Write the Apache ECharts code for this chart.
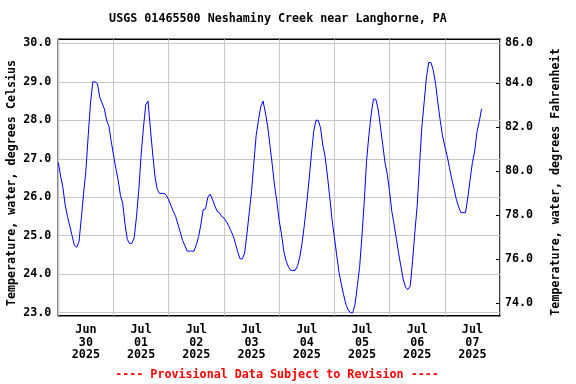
<!DOCTYPE html>
<html><head><meta charset="utf-8">
<script src="https://cdn.jsdelivr.net/npm/echarts@6/dist/echarts.min.js"></script>
<style>html,body{margin:0;padding:0;background:#fff}#c{width:576px;height:384px}</style>
</head><body><div id="c"></div><script>
// Day labels (each centred on its day)
const dayLabels = ["Jun\n30\n2025","Jul\n01\n2025","Jul\n02\n2025","Jul\n03\n2025","Jul\n04\n2025","Jul\n05\n2025","Jul\n06\n2025","Jul\n07\n2025"];
// Hourly readings, starting 2025-06-30 00:00 (hour 0), degrees Celsius
const hourStart = 0;
const tempC = [
26.9,26.55,26.25,25.8,25.5,25.25,25.0,24.75,24.7,24.85,25.45,26.1,26.7,27.6,28.45,29.0,29.0,28.95,28.6,28.45,28.3,28.0,27.85,27.45,
27.1,26.75,26.45,26.05,25.85,25.3,24.9,24.8,24.8,24.95,25.5,26.2,27.1,27.8,28.4,28.5,27.8,27.15,26.55,26.2,26.1,26.1,26.1,26.05,
25.93,25.78,25.63,25.5,25.3,25.1,24.88,24.75,24.6,24.6,24.6,24.6,24.77,24.98,25.3,25.68,25.7,26.0,26.08,25.95,25.78,25.64,25.6,25.5,
25.46,25.37,25.27,25.13,25.0,24.8,24.58,24.4,24.4,24.55,25.05,25.6,26.15,26.9,27.6,28.0,28.35,28.5,28.2,27.85,27.35,26.85,26.3,25.9,
25.4,25.05,24.6,24.35,24.2,24.1,24.1,24.1,24.22,24.45,24.82,25.3,25.85,26.45,27.1,27.7,28.0,28.0,27.8,27.35,27.05,26.55,26.0,25.42,
24.97,24.5,24.05,23.75,23.47,23.22,23.07,23.0,23.0,23.22,23.7,24.2,25.0,25.9,26.95,27.6,28.15,28.55,28.55,28.3,27.85,27.38,26.9,26.6,
26.15,25.62,25.28,24.9,24.52,24.18,23.85,23.65,23.6,23.7,24.35,25.1,25.78,26.8,27.8,28.45,29.1,29.5,29.5,29.3,28.95,28.45,28.0,27.6,
27.33,27.08,26.78,26.48,26.22,25.95,25.75,25.6,25.6,25.6,25.98,26.45,26.9,27.2,27.7,27.97,28.3
];
const titleText = "USGS 01465500 Neshaminy Creek near Langhorne, PA";
const leftName = "Temperature, water, degrees Celsius";
const rightName = "Temperature, water, degrees Fahrenheit";
const footText = "---- Provisional Data Subject to Revision ----";

const FF = '"DejaVu Sans Mono", monospace';
const FS = 11.7;
const gridColor = '#c8c8c8';
const chart = echarts.init(document.getElementById('c'), null, {renderer:'canvas'});
const lbl = {fontFamily:FF, fontWeight:'bold', fontSize:FS, color:'#000'};
chart.setOption({
  animation:false,
  backgroundColor:'#fff',
  grid:[
    {left:58.3, right:76, top:39.3, bottom:68.3, show:true, borderColor:'#000', borderWidth:1.5, backgroundColor:'transparent'},
    {left:58.3, right:76, top:43.3, bottom:71.3},
    {left:58.3, right:76, top:39.3, bottom:80.7}
  ],
  xAxis:[
    {gridIndex:0, type:'value', min:0, max:192, interval:24, axisLine:{show:false, onZero:false}, axisTick:{show:false}, axisLabel:{show:false}, splitLine:{show:true, lineStyle:{color:gridColor, width:1}}},
    {gridIndex:0, type:'category', data:dayLabels, boundaryGap:true, position:'bottom', axisLine:{show:false, onZero:false}, axisTick:{show:false}, splitLine:{show:false},
      axisLabel:Object.assign({interval:0, margin:8, lineHeight:12.6}, lbl)},
    {gridIndex:1, type:'value', min:0, max:192, show:false},
    {gridIndex:2, type:'value', min:0, max:192, show:false}
  ],
  yAxis:[
    {gridIndex:0, type:'value', min:0, max:1, show:false},
    {gridIndex:1, type:'value', position:'left', min:23, max:30, interval:1, axisLine:{show:false, onZero:false}, axisTick:{show:false},
      splitLine:{show:true, lineStyle:{color:gridColor, width:1}},
      axisLabel:Object.assign({margin:7, formatter:v=>v.toFixed(1)}, lbl)},
    {gridIndex:2, type:'value', position:'right', min:74, max:86, interval:2, axisLine:{show:false, onZero:false},
      axisTick:{show:true, inside:true, length:4, lineStyle:{color:'#000', width:1}}, splitLine:{show:false},
      axisLabel:Object.assign({margin:5, formatter:v=>(v===86?'{t|86.0}':v.toFixed(1)), rich:{t:Object.assign({padding:[8,0,0,0]}, lbl)}}, lbl)}
  ],
  series:[{
    type:'line', xAxisIndex:2, yAxisIndex:1, showSymbol:false, clip:false,
    lineStyle:{color:'#0000ff', width:1},
    data:tempC.map((v,i)=>[hourStart+i, v])
  }],
  graphic:[
    {type:'text', x:278, y:19, style:{text:titleText, x:0, y:0, align:'center', verticalAlign:'middle', font:'bold '+FS+'px '+FF, fill:'#000'}},
    {type:'text', x:11.7, y:183, rotation:Math.PI/2, style:{text:leftName, x:0, y:0, align:'center', verticalAlign:'middle', font:'bold '+FS+'px '+FF, fill:'#000'}},
    {type:'text', x:556, y:182, rotation:Math.PI/2, style:{text:rightName, x:0, y:0, align:'center', verticalAlign:'middle', font:'bold '+FS+'px '+FF, fill:'#000'}},
    {type:'text', x:277, y:375, style:{text:footText, x:0, y:0, align:'center', verticalAlign:'middle', font:'bold '+FS+'px '+FF, fill:'#ff0000'}}
  ]
});
</script></body></html>
